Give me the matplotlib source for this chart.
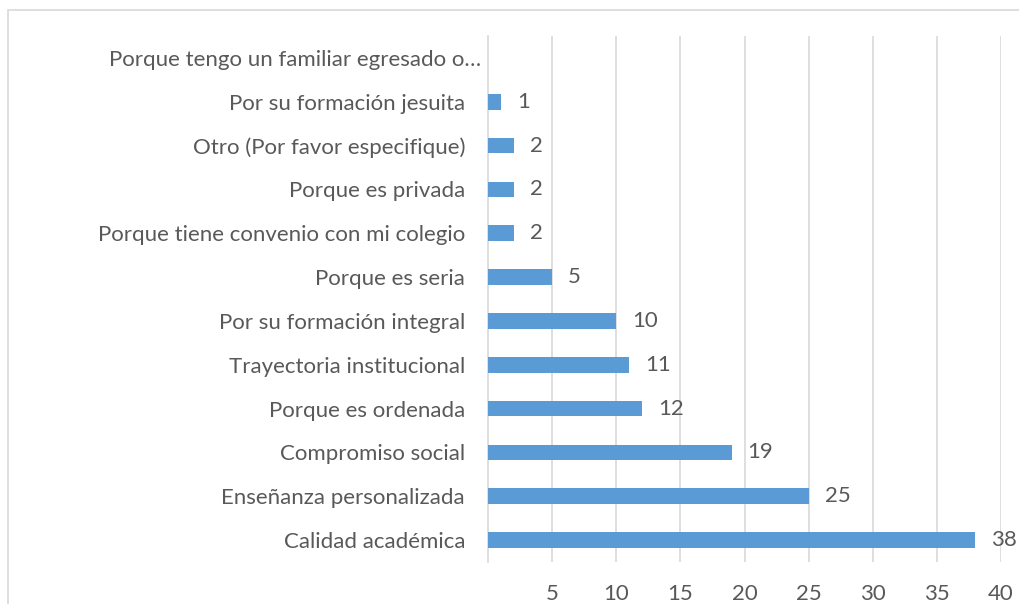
import matplotlib
matplotlib.use("Agg")
import matplotlib.pyplot as plt
from matplotlib.patches import Rectangle
from matplotlib.transforms import offset_copy

categories = [
    "Calidad académica",
    "Enseñanza personalizada",
    "Compromiso social",
    "Porque es ordenada",
    "Trayectoria institucional",
    "Por su formación integral",
    "Porque es seria",
    "Porque tiene convenio con mi colegio",
    "Porque es privada",
    "Otro (Por favor especifique)",
    "Por su formación jesuita",
    "Porque tengo un familiar egresado o…",
]
values = [38, 25, 19, 12, 11, 10, 5, 2, 2, 2, 1, 0]
xticks = [5, 10, 15, 20, 25, 30, 35, 40]

plt.rcParams['font.family'] = ['Lato', 'DejaVu Sans']
text_color = "#595959"
grid_color = "#D9D9D9"
bar_color = "#5B9BD5"
fs = 16

W, H = 1019, 604
fig = plt.figure(figsize=(W / 100, H / 100), dpi=100)
fig.patches.append(Rectangle((8 / W, -0.1), 1.2, 1 - 10 / H + 0.1, transform=fig.transFigure,
                             fill=False, edgecolor=grid_color, linewidth=1.2))
ax = fig.add_axes([488 / W, 1 - 562 / H, (1001 - 488) / W, (562 - 36) / H])

y = list(range(len(categories)))
ax.barh(y, values, height=0.36, color=bar_color, zorder=3)
ax.set_xlim(0, 40)
ax.set_ylim(-0.5, len(categories) - 0.5)
ax.set_yticks(y)
ax.set_yticklabels(categories, fontsize=fs, color=text_color)
ax.set_xticks(xticks)
ax.set_xticklabels([str(t) for t in xticks], fontsize=fs, color=text_color)
ax.tick_params(axis='both', length=0)
ax.tick_params(axis='y', pad=16.5)
ax.tick_params(axis='x', pad=16)
ax.grid(axis='x', color=grid_color, linewidth=1.2, zorder=0)
for s in ['top', 'right', 'bottom']:
    ax.spines[s].set_visible(False)
ax.spines['left'].set_color(grid_color)
ax.spines['left'].set_linewidth(1.2)

# Excel places the truncated label closer to the axis
last = ax.get_yticklabels()[-1]
last.set_transform(last.get_transform() + matplotlib.transforms.ScaledTranslation(16 / 100, 0, fig.dpi_scale_trans))

trans = offset_copy(ax.transData, fig=fig, x=16, y=0, units='dots')
for yi, v in zip(y, values):
    if v > 0:
        ax.text(v, yi, str(v), transform=trans, fontsize=fs, color=text_color,
                va='center', ha='left', clip_on=False)

fig.savefig("out.png", dpi=100)
